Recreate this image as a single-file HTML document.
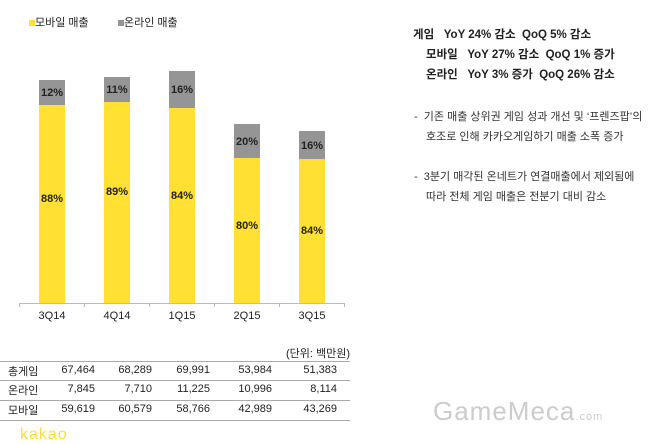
<!DOCTYPE html>
<html><head><meta charset="utf-8"><style>
body{margin:0;width:660px;height:438px;background:#fff;position:relative;overflow:hidden;font-family:"Liberation Sans","Noto Sans CJK KR",sans-serif;color:#222}
.a{position:absolute;white-space:nowrap}
.bar{position:absolute;width:26px}
.y{background:#ffe033}.g{background:#959595}
.p{position:absolute;width:26px;text-align:center;font-size:11px;font-weight:bold;color:#222}
.x{position:absolute;width:60px;text-align:center;font-size:11px;top:310px}
.r{position:absolute;font-size:11px;text-align:right}
.hl{position:absolute;left:0;width:350px;height:1px;background:#aaa}
.tk{position:absolute;top:303px;width:1px;height:4px;background:#bbb}
.t{font-size:11.5px;font-weight:bold}
.b{font-size:11px;color:#333}
</style></head><body>
<div class="a" style="left:29px;top:14px;font-size:11px"><span style="display:inline-block;width:6px;height:6px;background:#ffe033"></span>모바일 매출</div>
<div class="a" style="left:118px;top:14px;font-size:11px"><span style="display:inline-block;width:6px;height:6px;background:#959595"></span>온라인 매출</div>

<div class="bar g" style="left:39px;top:80px;height:25px"></div><div class="bar y" style="left:39px;top:105px;height:198px"></div>
<div class="bar g" style="left:104px;top:77px;height:25px"></div><div class="bar y" style="left:104px;top:102px;height:201px"></div>
<div class="bar g" style="left:169px;top:71px;height:37px"></div><div class="bar y" style="left:169px;top:108px;height:195px"></div>
<div class="bar g" style="left:234px;top:124px;height:34px"></div><div class="bar y" style="left:234px;top:158px;height:145px"></div>
<div class="bar g" style="left:299px;top:131px;height:28px"></div><div class="bar y" style="left:299px;top:159px;height:144px"></div>

<div class="p" style="left:39px;top:87px">12%</div><div class="p" style="left:39px;top:193px">88%</div>
<div class="p" style="left:104px;top:84px">11%</div><div class="p" style="left:104px;top:186px">89%</div>
<div class="p" style="left:169px;top:84px">16%</div><div class="p" style="left:169px;top:190px">84%</div>
<div class="p" style="left:234px;top:136px">20%</div><div class="p" style="left:234px;top:220px">80%</div>
<div class="p" style="left:299px;top:140px">16%</div><div class="p" style="left:299px;top:225px">84%</div>

<div class="a" style="left:19px;top:303px;width:326px;height:1px;background:#bbb"></div>
<div class="tk" style="left:19px"></div><div class="tk" style="left:84px"></div><div class="tk" style="left:149px"></div><div class="tk" style="left:214px"></div><div class="tk" style="left:279px"></div><div class="tk" style="left:344px"></div>
<div class="x" style="left:22px">3Q14</div><div class="x" style="left:87px">4Q14</div><div class="x" style="left:152px">1Q15</div><div class="x" style="left:217px">2Q15</div><div class="x" style="left:282px">3Q15</div>

<div class="r" style="left:250px;width:100px;top:345px">(단위: 백만원)</div>
<div class="hl" style="top:361px"></div><div class="hl" style="top:380px"></div><div class="hl" style="top:400px"></div><div class="hl" style="top:420px"></div>
<div class="a" style="left:8px;top:363px;font-size:11px">총게임</div>
<div class="a" style="left:8px;top:382px;font-size:11px">온라인</div>
<div class="a" style="left:8px;top:402px;font-size:11px">모바일</div>
<div class="r" style="left:35px;width:60px;top:364px">67,464</div><div class="r" style="left:92px;width:60px;top:364px">68,289</div><div class="r" style="left:150px;width:60px;top:364px">69,991</div><div class="r" style="left:212px;width:60px;top:364px">53,984</div><div class="r" style="left:277px;width:60px;top:364px">51,383</div>
<div class="r" style="left:35px;width:60px;top:383px">7,845</div><div class="r" style="left:92px;width:60px;top:383px">7,710</div><div class="r" style="left:150px;width:60px;top:383px">11,225</div><div class="r" style="left:212px;width:60px;top:383px">10,996</div><div class="r" style="left:277px;width:60px;top:383px">8,114</div>
<div class="r" style="left:35px;width:60px;top:403px">59,619</div><div class="r" style="left:92px;width:60px;top:403px">60,579</div><div class="r" style="left:150px;width:60px;top:403px">58,766</div><div class="r" style="left:212px;width:60px;top:403px">42,989</div><div class="r" style="left:277px;width:60px;top:403px">43,269</div>
<div class="a" style="left:20px;top:426px;font-size:16px;color:#ffe033;letter-spacing:1px">kakao</div>

<div class="a t" style="left:413px;top:26px">게임 &nbsp; YoY 24% 감소 &nbsp;QoQ 5% 감소</div>
<div class="a t" style="left:426px;top:46px">모바일 &nbsp; YoY 27% 감소 &nbsp;QoQ 1% 증가</div>
<div class="a t" style="left:426px;top:66px">온라인 &nbsp; YoY 3% 증가 &nbsp;QoQ 26% 감소</div>
<div class="a b" style="left:414px;top:108px">- &nbsp;기존 매출 상위권 게임 성과 개선 및 ‘프렌즈팝’의</div>
<div class="a b" style="left:426px;top:128px">호조로 인해 카카오게임하기 매출 소폭 증가</div>
<div class="a b" style="left:414px;top:168px">- &nbsp;3분기 매각된 온네트가 연결매출에서 제외됨에</div>
<div class="a b" style="left:426px;top:188px">따라 전체 게임 매출은 전분기 대비 감소</div>

<div class="a" style="left:433px;top:396px;font-size:26px;color:#ccc;letter-spacing:1px;font-family:'Liberation Sans',sans-serif">GameMeca<span style="font-size:11px">.com</span></div>
</body></html>
